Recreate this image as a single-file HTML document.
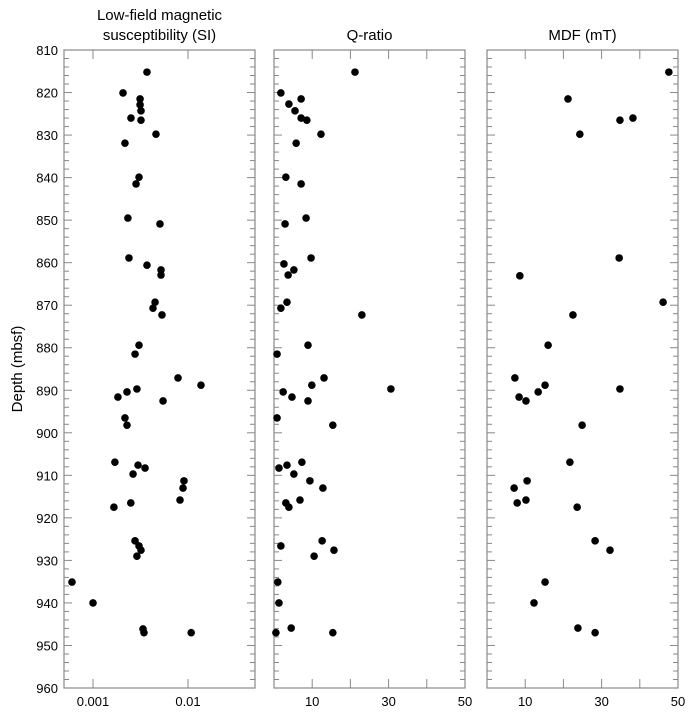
<!DOCTYPE html>
<html><head><meta charset="utf-8">
<style>
html,body{margin:0;padding:0;background:#fff;}
svg{display:block;font-family:"Liberation Sans",Arial,sans-serif;}
</style></head>
<body>
<svg id="chart" width="690" height="714" viewBox="0 0 690 714" xmlns="http://www.w3.org/2000/svg"></svg>
<script>
// Shared depth axis ticks
const depthTicks = [810,820,830,840,850,860,870,880,890,900,910,920,930,940,950,960];

// Panel 1: susceptibility (SI)
const susDepth = [815.2,820.1,821.5,822.9,824.3,826.0,826.5,829.8,831.9,839.9,841.5,849.5,850.9,858.9,860.6,861.7,862.9,869.3,870.7,872.3,879.4,881.5,887.1,888.8,889.7,890.4,891.6,892.5,896.5,898.2,906.9,907.6,908.3,909.7,911.3,913.0,915.8,916.5,917.5,925.4,926.6,927.6,929.0,935.1,940.0,946.1,947.0,947.0];
const susValue = [0.0037,0.00207,0.00313,0.00313,0.0032,0.00251,0.0032,0.0046,0.00217,0.00305,0.00284,0.00233,0.00507,0.00239,0.0037,0.0052,0.0052,0.0045,0.00428,0.00532,0.00305,0.00277,0.00785,0.0137,0.0029,0.00228,0.00183,0.00546,0.00217,0.00228,0.0017,0.00298,0.00353,0.00264,0.00907,0.00886,0.00824,0.0025,0.00166,0.00277,0.00305,0.0032,0.0029,0.000601,0.001,0.00336,0.00344,0.0108];
const susTickLabels = ["0.001","0.01"];
const susTickValues = [0.001,0.01];

// Panel 2: Q-ratio
const qDepth = [815.2,820.1,821.5,822.7,824.3,826.0,826.5,829.8,831.9,839.9,841.5,849.5,850.9,858.9,860.3,861.7,862.9,869.3,870.7,872.3,879.4,881.5,887.1,888.8,889.7,890.4,891.6,892.5,896.5,898.2,906.9,907.6,908.3,909.7,911.3,913.0,915.8,916.5,917.5,925.4,926.6,927.6,929.0,935.1,940.0,945.9,947.0,947.0];
const qValue = [21.2,1.8,7.1,3.9,5.5,7.1,8.6,12.3,5.8,3.1,7.1,8.4,2.9,9.7,2.6,5.2,3.7,3.4,1.8,23.0,8.9,0.8,13.1,9.9,30.6,2.4,4.7,8.9,0.8,15.4,7.3,3.4,1.3,5.2,9.4,12.8,6.8,3.1,3.9,12.6,1.8,15.7,10.5,1.0,1.3,4.5,0.5,15.4];

// Panel 3: MDF (mT)
const mdfDepth = [815.2,821.5,826.5,826.0,829.8,858.9,863.1,869.3,872.3,879.4,887.1,888.8,889.7,890.4,891.6,892.5,898.2,906.9,911.3,913.0,915.8,916.5,917.5,925.4,927.6,935.1,940.0,945.9,947.0];
const mdfValue = [47.6,21.2,34.8,38.2,24.3,34.6,8.6,46.1,22.5,16.0,7.3,15.2,34.8,13.4,8.4,10.2,24.9,21.7,10.5,7.1,10.2,7.9,23.6,28.3,32.2,15.2,12.3,23.8,28.3];

const linTickValues = [10,20,30,40,50];
const linTickLabels = ["10","","30","","50"];

const svgEl = document.getElementById('chart');
const NS = 'http://www.w3.org/2000/svg';
function mk(tag, attrs, parent){
  const e = document.createElementNS(NS, tag);
  for (const k in attrs) e.setAttribute(k, attrs[k]);
  (parent||svgEl).appendChild(e);
  return e;
}
const plotTop = 50, plotBot = 688;
function yScale(d){ return plotTop + (d-810)/(960-810)*(plotBot-plotTop); }

const panels = [
  {name:'susceptibility', x0:64, x1:255, title:['Low-field magnetic','susceptibility (SI)'],
   scale:v=>93+(Math.log10(v)+3)*95, depth:susDepth, vals:susValue, tv:susTickValues, tl:susTickLabels},
  {name:'q-ratio', x0:274, x1:465, title:['Q-ratio'],
   scale:v=>274+v*(465-274)/50, depth:qDepth, vals:qValue, tv:linTickValues, tl:linTickLabels},
  {name:'mdf', x0:487, x1:678, title:['MDF (mT)'],
   scale:v=>487+v*(678-487)/50, depth:mdfDepth, vals:mdfValue, tv:linTickValues, tl:linTickLabels}
];

panels.forEach((p)=>{
  const g = mk('g',{});
  
  
  const frame = mk('rect',{x:p.x0,y:plotTop,width:p.x1-p.x0,height:plotBot-plotTop,fill:'none',stroke:'#888','stroke-width':1.2},g);
  
  
  const cx = (p.x0+p.x1)/2;
  p.title.forEach((t,i)=>{
    const ty = p.title.length===2 ? 20+i*20 : 40;
    const te = mk('text',{x:cx,y:ty,'text-anchor':'middle','font-size':15,fill:'#000'},g);
    te.textContent = t;
    
    
  });
  for (let d=810; d<=960; d+=2){
    const y = yScale(d);
    const len = (d%10===0)?8:5;
    mk('line',{x1:p.x0,x2:p.x0+len,y1:y,y2:y,stroke:'#888','stroke-width':1},g);
    mk('line',{x1:p.x1,x2:p.x1-len,y1:y,y2:y,stroke:'#888','stroke-width':1},g);
  }
  p.tv.forEach((v,i)=>{
    const x = p.scale(v);
    if (x <= p.x1-1) {
      mk('line',{x1:x,x2:x,y1:plotBot,y2:plotBot-9,stroke:'#888','stroke-width':1},g);
      mk('line',{x1:x,x2:x,y1:plotTop,y2:plotTop+9,stroke:'#888','stroke-width':1},g);
    }
    if (p.tl[i]){
      const te = mk('text',{x:x,y:plotBot+18,'text-anchor':'middle','font-size':13,fill:'#000'},g);
      te.textContent = p.tl[i];
      
      
    }
  });
  p.vals.forEach((v,i)=>{
    const c = mk('circle',{cx:p.scale(v),cy:yScale(p.depth[i]),r:3.8,fill:'#000'},g);
    
    
  });
});

depthTicks.forEach(d=>{
  const te = mk('text',{x:58,y:yScale(d)+5,'text-anchor':'end','font-size':13,fill:'#000'});
  te.textContent = String(d);
  
  
});
const yt = mk('text',{x:0,y:0,'text-anchor':'middle','font-size':15,fill:'#000',transform:'translate(22,369) rotate(-90)'});
yt.textContent = 'Depth (mbsf)';


</script>
</body></html>
